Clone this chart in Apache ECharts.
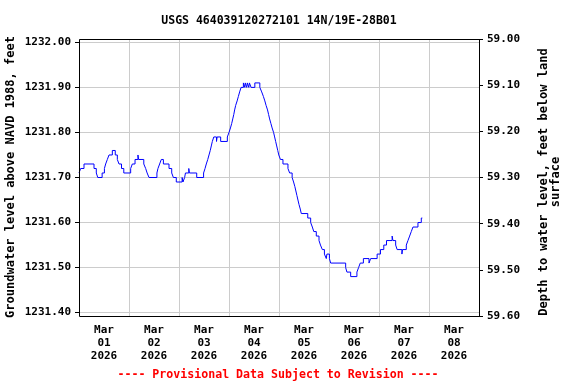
<!DOCTYPE html>
<html><head><meta charset="utf-8">
<script src="https://cdn.jsdelivr.net/npm/echarts@6/dist/echarts.min.js"></script>
<style>html,body{margin:0;padding:0;background:#fff}#c{width:576px;height:384px}</style>
</head><body><div id="c"></div>
<script>
const chartTitle = 'USGS 464039120272101 14N/19E-28B01';
const footerText = '---- Provisional Data Subject to Revision ----';
const leftAxisName = 'Groundwater level above NAVD 1988, feet';
const rightAxisName = 'Depth to water level, feet below land\nsurface';
const dayLabels = ['Mar\n01\n2026','Mar\n02\n2026','Mar\n03\n2026','Mar\n04\n2026','Mar\n05\n2026','Mar\n06\n2026','Mar\n07\n2026','Mar\n08\n2026'];
const leftTicks = [1231.40, 1231.50, 1231.60, 1231.70, 1231.80, 1231.90, 1232.00];
const rightTicks = [59.00, 59.10, 59.20, 59.30, 59.40, 59.50, 59.60];
// hours since 2026-03-01 00:00 at which the reading changes
const hours = [0,0.8,2.4,7.2,8.3,9.0,11.1,12.2,12.8,13.6,14.4,16.0,17.4,18.4,19.2,20.4,21.5,24.8,25.6,26.9,28.3,28.6,31.1,32.0,32.7,33.6,37.4,37.9,38.7,39.5,40.5,43.2,44.5,45.3,46.7,49.5,49.9,50.7,51.1,52.7,53.0,56.5,59.8,60.5,61.1,61.8,62.4,63.0,63.5,64.0,64.7,66.0,66.3,68.0,71.2,72.0,72.7,73.3,73.8,74.3,74.7,75.2,75.9,76.5,77.1,77.8,78.9,79.6,79.8,80.5,80.8,81.5,81.8,82.6,84.4,86.8,87.7,88.5,89.2,89.8,90.5,91.0,91.5,92.1,92.7,93.4,93.9,94.4,94.9,95.4,95.9,96.7,97.9,100.3,101.1,102.3,103.0,103.6,104.1,104.6,105.1,105.6,106.2,106.7,109.8,111.2,112.0,112.7,113.9,115.2,115.9,116.8,117.8,118.7,119.0,120.2,120.8,128.0,128.6,130.4,133.4,134.2,135.0,136.5,139.2,140.0,143.1,144.7,146.3,147.6,150.3,150.7,152.0,152.7,155.0,155.3,157.1,157.9,158.7,159.5,160.3,162.7,164.3,164.8];
const levels = [1231.71,1231.72,1231.73,1231.72,1231.71,1231.70,1231.71,1231.72,1231.73,1231.74,1231.75,1231.76,1231.75,1231.74,1231.73,1231.72,1231.71,1231.72,1231.73,1231.74,1231.75,1231.74,1231.73,1231.72,1231.71,1231.70,1231.71,1231.72,1231.73,1231.74,1231.73,1231.72,1231.71,1231.70,1231.69,1231.70,1231.69,1231.70,1231.71,1231.72,1231.71,1231.70,1231.71,1231.72,1231.73,1231.74,1231.75,1231.76,1231.77,1231.78,1231.79,1231.78,1231.79,1231.78,1231.79,1231.80,1231.81,1231.82,1231.83,1231.84,1231.85,1231.86,1231.87,1231.88,1231.89,1231.90,1231.91,1231.90,1231.91,1231.90,1231.91,1231.90,1231.91,1231.90,1231.91,1231.90,1231.89,1231.88,1231.87,1231.86,1231.85,1231.84,1231.83,1231.82,1231.81,1231.80,1231.79,1231.78,1231.77,1231.76,1231.75,1231.74,1231.73,1231.72,1231.71,1231.70,1231.69,1231.68,1231.67,1231.66,1231.65,1231.64,1231.63,1231.62,1231.61,1231.60,1231.59,1231.58,1231.57,1231.56,1231.55,1231.54,1231.53,1231.52,1231.53,1231.52,1231.51,1231.50,1231.49,1231.48,1231.49,1231.50,1231.51,1231.52,1231.51,1231.52,1231.53,1231.54,1231.55,1231.56,1231.57,1231.56,1231.55,1231.54,1231.53,1231.54,1231.55,1231.56,1231.57,1231.58,1231.59,1231.60,1231.61,1231.61];

const F = '"DejaVu Sans Mono", monospace';
const chart = echarts.init(document.getElementById('c'), null, {renderer: 'canvas'});
const labelStyle = {fontFamily: F, fontWeight: 'bold', fontSize: 11, color: '#000'};
chart.setOption({
  animation: false,
  grid: {left: 79, right: 97, top: 39, bottom: 68, containLabel: false},
  xAxis: [
    {type: 'value', min: 0, max: 192, show: false},
    {type: 'category', data: dayLabels, boundaryGap: true, position: 'bottom',
     axisLine: {show: false}, axisTick: {show: false},
     splitLine: {show: true, interval: 0, lineStyle: {color: '#cccccc', width: 1}},
     axisLabel: Object.assign({interval: 0, margin: 8, lineHeight: 13}, labelStyle)}
  ],
  yAxis: [
    {type: 'value', min: 1231.3925, max: 1232.0075, position: 'left',
     axisLine: {show: false},
     axisTick: {show: true, length: 4, customValues: leftTicks, lineStyle: {color: '#000'}},
     axisLabel: Object.assign({customValues: leftTicks, margin: 8, formatter: v => v.toFixed(2)}, labelStyle),
     splitLine: {show: true, lineStyle: {color: '#cccccc', width: 1}}},
    {type: 'value', min: 59.0, max: 59.6, inverse: true, position: 'right',
     axisLine: {show: false},
     axisTick: {show: true, length: 4, customValues: rightTicks, lineStyle: {color: '#000'}},
     axisLabel: Object.assign({customValues: rightTicks, margin: 8, formatter: v => v.toFixed(2)}, labelStyle),
     splitLine: {show: false}}
  ],
  series: [{
    type: 'line', xAxisIndex: 0, yAxisIndex: 0, step: 'end', symbol: 'none',
    lineStyle: {color: '#0000ff', width: 1},
    data: hours.map((h, i) => [h, levels[i]])
  }],
  graphic: [
    {type: 'rect', z: 100, silent: true, shape: {x: 79.5, y: 39.5, width: 400, height: 277},
     style: {fill: null, stroke: '#000', lineWidth: 1}},
    {type: 'text', x: 279, y: 21, silent: true,
     style: {text: chartTitle, fontFamily: F, fontWeight: 'bold', fontSize: 11.5, fill: '#000', align: 'center', verticalAlign: 'middle'}},
    {type: 'text', x: 278, y: 375, silent: true,
     style: {text: footerText, fontFamily: F, fontWeight: 'bold', fontSize: 11.6, fill: '#ff0000', align: 'center', verticalAlign: 'middle'}},
    {type: 'text', x: 11, y: 177, rotation: Math.PI / 2, silent: true,
     style: {text: leftAxisName, fontFamily: F, fontWeight: 'bold', fontSize: 12, fill: '#000', align: 'center', verticalAlign: 'middle'}},
    {type: 'text', x: 550, y: 182, rotation: Math.PI / 2, silent: true,
     style: {text: rightAxisName, fontFamily: F, fontWeight: 'bold', fontSize: 12, lineHeight: 12, fill: '#000', align: 'center', verticalAlign: 'middle'}}
  ]
});
</script>
</body></html>
